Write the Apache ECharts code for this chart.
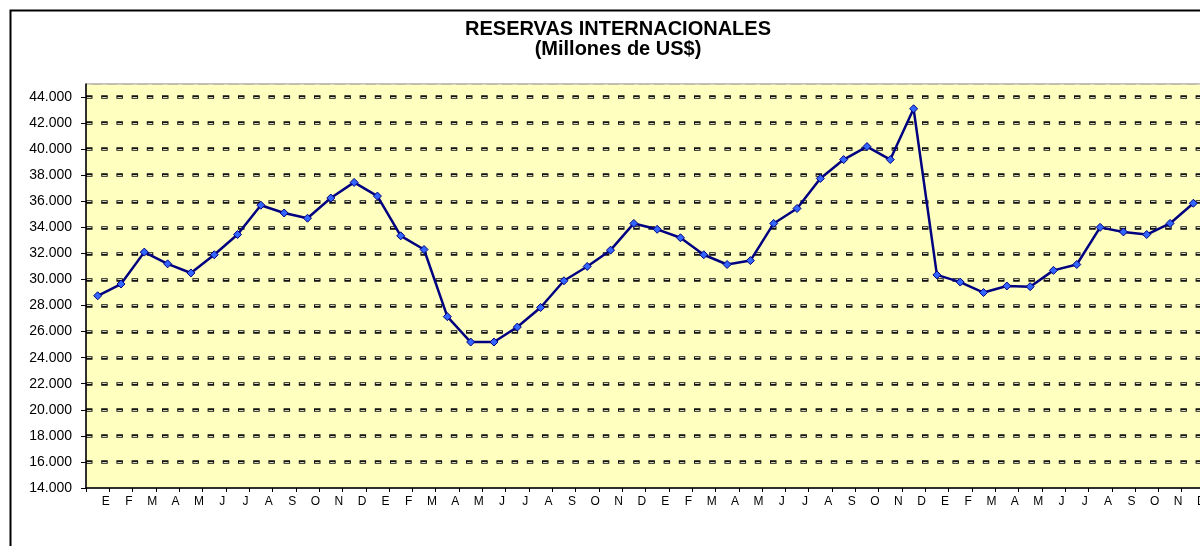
<!DOCTYPE html>
<html>
<head>
<meta charset="utf-8">
<script src="https://cdn.jsdelivr.net/npm/echarts@6/dist/echarts.min.js"></script>
<style>
  html, body { margin: 0; padding: 0; background: #fff; }
  #chart { width: 1200px; height: 546px; }
</style>
</head>
<body>
<div id="chart"></div>
<script>
// reservas internacionales, millones de US$ — 4 años mensuales
const meses = ["E", "F", "M", "A", "M", "J", "J", "A", "S", "O", "N", "D"];
const categorias = [].concat(meses, meses, meses, meses);

const reservas = [
  28750, 29650, 32100, 31200, 30500, 31900, 33450, 35700, 35100, 34700, 36250, 37450,
  36400, 33350, 32300, 27150, 25200, 25200, 26350, 27850, 29900, 31000, 32250, 34300,
  33850, 33200, 31900, 31150, 31450, 34300, 35450, 37750, 39200, 40200, 39200, 43100,
  30350, 29800, 29000, 29500, 29450, 30700, 31150, 34000, 33650, 33450, 34300, 35850
];

const yTicks = [14000, 16000, 18000, 20000, 22000, 24000, 26000, 28000, 30000,
                32000, 34000, 36000, 38000, 40000, 42000, 44000];

const fmt = v => (v / 1000).toFixed(3);
const FONT = "Liberation Sans, Arial, sans-serif";

const chart = echarts.init(document.getElementById("chart"), null, { renderer: "canvas" });

// eje Y "fantasma" solo para el relleno claro de los guiones de la cuadrícula
const yBase = { type: "value", min: 14000, max: 45000, interval: 2000 };

chart.setOption({
  animation: false,
  backgroundColor: "#fff",
  textStyle: { fontFamily: FONT },
  title: {
    text: "RESERVAS INTERNACIONALES\n(Millones de US$)",
    left: 613, top: 14, textAlign: "center",
    textStyle: { fontSize: 20, fontWeight: "bold", color: "#000", lineHeight: 20, fontFamily: FONT }
  },
  graphic: [{
    type: "rect", left: 8, top: 8, z: -10, silent: true,
    shape: { width: 1260, height: 600 },
    style: { fill: null, stroke: "#000", lineWidth: 2 }
  }],
  grid: {
    left: 86, top: 84, bottom: 58, width: 1119,
    containLabel: false, outerBoundsMode: "none",
    show: true, backgroundColor: "#ffffc0", borderColor: "#808080", borderWidth: 1
  },
  xAxis: {
    type: "category",
    data: categorias,
    boundaryGap: true,
    axisLine: { lineStyle: { color: "#000", width: 1.5 } },
    axisTick: { show: true, interval: 0, length: 4, lineStyle: { color: "#000" } },
    axisLabel: { interval: 0, color: "#000", fontSize: 12, margin: 8, padding: [0, 0, 0, 16] },
    splitLine: { show: false }
  },
  yAxis: [Object.assign({}, yBase, {
    axisLine: { show: true, lineStyle: { color: "#000", width: 1.5 } },
    axisTick: { show: true, length: 5, inside: false, customValues: yTicks,
                lineStyle: { color: "#000" } },
    axisLabel: { color: "#000", fontSize: 14, margin: 14, customValues: yTicks, formatter: fmt },
    splitLine: {
      show: true, showMinLine: false,
      lineStyle: { color: "#111", width: 3.5, type: [6.5, 8.7] }
    }
  }), Object.assign({}, yBase, {
    position: "left", z: 1,
    axisLine: { show: false }, axisTick: { show: false }, axisLabel: { show: false },
    splitLine: {
      show: true, showMinLine: false,
      lineStyle: { color: "#d8d8b8", width: 1.2, type: [4.5, 10.7], dashOffset: -1 }
    }
  })],
  series: [{
    type: "line",
    data: reservas,
    symbol: "diamond",
    symbolSize: 8,
    showAllSymbol: true,
    lineStyle: { color: "#000080", width: 2.5 },
    itemStyle: { color: "#3366ff", borderColor: "#000080", borderWidth: 1 },
    z: 5
  }]
});
</script>
</body>
</html>
